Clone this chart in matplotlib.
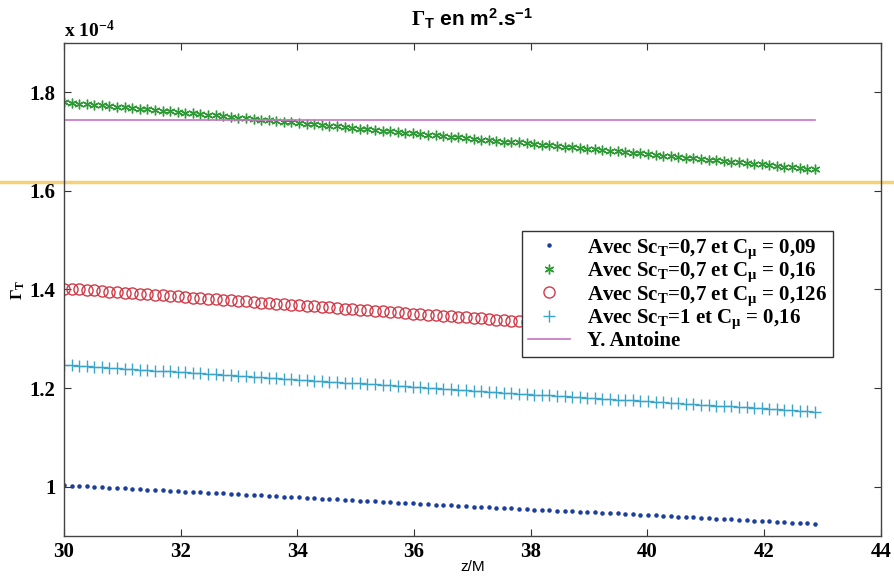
import matplotlib
matplotlib.use("Agg")
import matplotlib.pyplot as plt
from matplotlib.ticker import FuncFormatter
import numpy as np

plt.rcParams['mathtext.fontset'] = 'custom'
plt.rcParams['mathtext.rm'] = 'Liberation Serif:bold'
plt.rcParams['mathtext.it'] = 'Liberation Serif:bold'
plt.rcParams['mathtext.bf'] = 'Liberation Serif:bold'
plt.rcParams['mathtext.sf'] = 'Liberation Sans:bold'

# z/M positions of the computed points
z = [30.00, 30.13, 30.26, 30.39, 30.52, 30.65, 30.78, 30.91, 31.04, 31.17,
     31.30, 31.43, 31.56, 31.69, 31.82, 31.95, 32.08, 32.21, 32.34, 32.47,
     32.60, 32.73, 32.86, 32.99, 33.12, 33.25, 33.38, 33.51, 33.64, 33.77,
     33.90, 34.03, 34.16, 34.29, 34.42, 34.55, 34.68, 34.81, 34.94, 35.07,
     35.20, 35.33, 35.46, 35.59, 35.72, 35.85, 35.98, 36.11, 36.24, 36.37,
     36.50, 36.63, 36.76, 36.89, 37.02, 37.15, 37.28, 37.41, 37.54, 37.67,
     37.80, 37.93, 38.06, 38.19, 38.32, 38.45, 38.58, 38.71, 38.84, 38.97,
     39.10, 39.23, 39.36, 39.49, 39.62, 39.75, 39.88, 40.01, 40.14, 40.27,
     40.40, 40.53, 40.66, 40.79, 40.92, 41.05, 41.18, 41.31, 41.44, 41.57,
     41.70, 41.83, 41.96, 42.09, 42.22, 42.35, 42.48, 42.61, 42.74, 42.87]

# Gamma_T, units of 1e-4 m^2/s
sc07_c009 = [1.003, 1.002, 1.001, 1.001, 1.000, 0.999, 0.998, 0.998, 0.997, 0.996,
             0.995, 0.994, 0.994, 0.993, 0.992, 0.991, 0.990, 0.990, 0.989, 0.988,
             0.987, 0.987, 0.986, 0.985, 0.984, 0.983, 0.983, 0.982, 0.981, 0.980,
             0.979, 0.979, 0.978, 0.977, 0.976, 0.975, 0.975, 0.974, 0.973, 0.972,
             0.972, 0.971, 0.970, 0.969, 0.968, 0.968, 0.967, 0.966, 0.965, 0.964,
             0.964, 0.963, 0.962, 0.961, 0.960, 0.960, 0.959, 0.958, 0.957, 0.957,
             0.956, 0.955, 0.954, 0.953, 0.953, 0.952, 0.951, 0.950, 0.949, 0.949,
             0.948, 0.947, 0.946, 0.946, 0.945, 0.944, 0.943, 0.942, 0.942, 0.941,
             0.940, 0.939, 0.938, 0.938, 0.937, 0.936, 0.935, 0.934, 0.934, 0.933,
             0.932, 0.931, 0.931, 0.930, 0.929, 0.928, 0.927, 0.927, 0.926, 0.925]
sc07_c016 = [1.780, 1.779, 1.777, 1.776, 1.775, 1.773, 1.772, 1.770, 1.769, 1.768,
             1.766, 1.765, 1.764, 1.762, 1.761, 1.759, 1.758, 1.757, 1.755, 1.754,
             1.753, 1.751, 1.750, 1.748, 1.747, 1.746, 1.744, 1.743, 1.742, 1.740,
             1.739, 1.737, 1.736, 1.735, 1.733, 1.732, 1.731, 1.729, 1.728, 1.726,
             1.725, 1.724, 1.722, 1.721, 1.720, 1.718, 1.717, 1.715, 1.714, 1.713,
             1.711, 1.710, 1.709, 1.707, 1.706, 1.704, 1.703, 1.702, 1.700, 1.699,
             1.698, 1.696, 1.695, 1.693, 1.692, 1.691, 1.689, 1.688, 1.687, 1.685,
             1.684, 1.682, 1.681, 1.680, 1.678, 1.677, 1.676, 1.674, 1.673, 1.671,
             1.670, 1.669, 1.667, 1.666, 1.665, 1.663, 1.662, 1.660, 1.659, 1.658,
             1.656, 1.655, 1.654, 1.652, 1.651, 1.649, 1.648, 1.647, 1.645, 1.644]
sc07_c0126 = [1.402, 1.401, 1.400, 1.399, 1.398, 1.397, 1.395, 1.394, 1.393, 1.392,
              1.391, 1.390, 1.389, 1.388, 1.387, 1.386, 1.384, 1.383, 1.382, 1.381,
              1.380, 1.379, 1.378, 1.377, 1.376, 1.375, 1.373, 1.372, 1.371, 1.370,
              1.369, 1.368, 1.367, 1.366, 1.365, 1.364, 1.362, 1.361, 1.360, 1.359,
              1.358, 1.357, 1.356, 1.355, 1.354, 1.353, 1.351, 1.350, 1.349, 1.348,
              1.347, 1.346, 1.345, 1.344, 1.343, 1.342, 1.340, 1.339, 1.338, 1.337,
              1.336, 1.335, 1.334, 1.333, 1.332, 1.331, 1.329, 1.328, 1.327, 1.326,
              1.325, 1.324, 1.323, 1.322, 1.321, 1.320, 1.318, 1.317, 1.316, 1.315,
              1.314, 1.313, 1.312, 1.311, 1.310, 1.309, 1.307, 1.306, 1.305, 1.304,
              1.303, 1.302, 1.301, 1.300, 1.299, 1.298, 1.296, 1.295, 1.294, 1.293]
sc1_c016 = [1.247, 1.246, 1.245, 1.244, 1.243, 1.242, 1.241, 1.240, 1.239, 1.238,
            1.237, 1.236, 1.235, 1.235, 1.234, 1.233, 1.232, 1.231, 1.230, 1.229,
            1.228, 1.227, 1.226, 1.225, 1.224, 1.223, 1.222, 1.221, 1.220, 1.219,
            1.218, 1.217, 1.216, 1.215, 1.214, 1.213, 1.212, 1.211, 1.211, 1.210,
            1.209, 1.208, 1.207, 1.206, 1.205, 1.204, 1.203, 1.202, 1.201, 1.200,
            1.199, 1.198, 1.197, 1.196, 1.195, 1.194, 1.193, 1.192, 1.191, 1.190,
            1.189, 1.188, 1.187, 1.187, 1.186, 1.185, 1.184, 1.183, 1.182, 1.181,
            1.180, 1.179, 1.178, 1.177, 1.176, 1.175, 1.174, 1.173, 1.172, 1.171,
            1.170, 1.169, 1.168, 1.167, 1.166, 1.165, 1.164, 1.163, 1.163, 1.162,
            1.161, 1.160, 1.159, 1.158, 1.157, 1.156, 1.155, 1.154, 1.153, 1.152]
# reference value (Y. Antoine)
z_antoine = [30.00, 42.87]
antoine = [1.743, 1.743]
# yellowish highlighter stroke across the scan
highlight_y = 1.618

labels = [r'Avec Sc$_\mathrm{T}$=0,7 et C$_\mu$ = 0,09',
          r'Avec Sc$_\mathrm{T}$=0,7 et C$_\mu$ = 0,16',
          r'Avec Sc$_\mathrm{T}$=0,7 et C$_\mu$ = 0,126',
          r'Avec Sc$_\mathrm{T}$=1 et C$_\mu$ = 0,16',
          'Y. Antoine']

serif = 'Liberation Serif'

fig = plt.figure(figsize=(8.95, 5.79), dpi=100)
ax = fig.add_axes([0.0715, 0.074, 0.9125, 0.852])

ax.plot(z, sc07_c009, ls='none', marker='.', ms=4.5, color='#1c3f9e', label=labels[0])
ax.plot(z, sc07_c016, ls='none', marker=(6, 2, 0), ms=7, mew=1.0, color='#2e9a35', label=labels[1])
ax.plot(z, sc07_c0126, ls='none', marker='o', ms=8, mfc='none', mew=1.0, color='#d33a48', label=labels[2])
ax.plot(z, sc1_c016, ls='none', marker='+', ms=9, mew=1.0, color='#3aa5c6', label=labels[3])
ax.plot(z_antoine, antoine, '-', lw=1.2, color='#c673c4', label=labels[4])

ax.axhline(highlight_y, xmin=-0.08, xmax=1.02, color='#f3d27a', lw=2.5, clip_on=False, zorder=0.5)

ax.set_xlim(30, 44)
ax.set_ylim(0.9, 1.9)
ax.set_xticks(np.arange(30, 45, 2))
ax.set_yticks([1.0, 1.2, 1.4, 1.6, 1.8])
ax.yaxis.set_major_formatter(FuncFormatter(lambda v, p: '%g' % v))
ax.tick_params(direction='in', length=5, width=0.8, top=True, right=True, pad=6, color='#333333')
ax.tick_params(axis='x', pad=4)
for lab in ax.get_xticklabels() + ax.get_yticklabels():
    lab.set_fontfamily(serif)
    lab.set_fontweight('bold')
    lab.set_fontsize(15)
for sp in ax.spines.values():
    sp.set_color('#444444')
    sp.set_linewidth(1.0)

ax.set_xlabel('z/M', fontfamily='Liberation Sans', fontsize=11, labelpad=-1)
ax.set_ylabel(r'$\Gamma_\mathrm{T}$', fontsize=12, labelpad=2)
ax.set_title(r'$\Gamma_{\mathsf{T}}$ en m$^{\mathsf{2}}$.s$^{\mathsf{-1}}$',
             fontfamily='Liberation Sans', fontweight='bold', fontsize=15, pad=12)
ax.text(0.0, 1.004, r'x 10$^{-4}$', transform=ax.transAxes, fontfamily=serif,
        fontweight='bold', fontsize=14, va='bottom', ha='left')

leg = ax.legend(loc='upper left', bbox_to_anchor=(0.548, 0.64), frameon=True, fancybox=False,
                edgecolor='#333333', framealpha=1.0, handlelength=2.0, handletextpad=0.8,
                borderpad=0.3, labelspacing=0.0,
                prop={'family': serif, 'weight': 'bold', 'size': 15})
leg.get_frame().set_linewidth(1.0)

fig.savefig('out.png', dpi=100)
